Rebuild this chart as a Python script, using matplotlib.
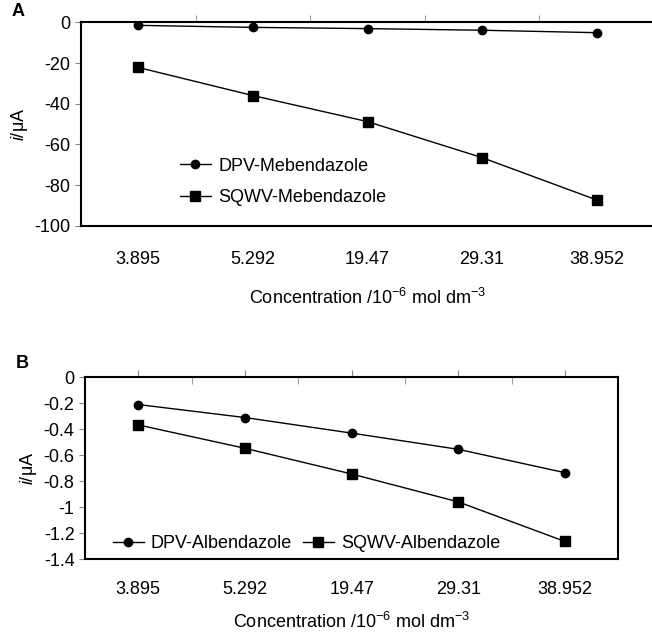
import numpy as np
import matplotlib.pyplot as plt
from matplotlib.ticker import FuncFormatter

plt.rcParams['font.family'] = ['Liberation Sans', 'DejaVu Sans']
plt.rcParams['mathtext.fontset'] = 'custom'
plt.rcParams['mathtext.rm'] = 'Liberation Sans'
plt.rcParams['mathtext.it'] = 'Liberation Sans:italic'
plt.rcParams['axes.unicode_minus'] = False

# Data
conc = ['3.895', '5.292', '19.47', '29.31', '38.952']
dpv_meb = [-1.5, -2.5, -3.1, -3.9, -5.1]
sqwv_meb = [-22.2, -36.0, -48.8, -66.5, -87.3]
dpv_alb = [-0.21, -0.31, -0.43, -0.555, -0.735]
sqwv_alb = [-0.367, -0.547, -0.745, -0.96, -1.265]

fs = 13
x = np.arange(len(conc))
xlabel = r'Concentration /10$^{-6}$ mol dm$^{-3}$'
ylabel = r'$\mathit{i}$/μA'

fig = plt.figure(figsize=(6.52, 6.33), dpi=100)

# Panel A
ax1 = fig.add_axes([81/652, 1-225.8/633, 573/652, 203.5/633])
ax1.plot(x, dpv_meb, '-o', color='black', lw=1.0, ms=6, label='DPV-Mebendazole')
ax1.plot(x, sqwv_meb, '-s', color='black', lw=1.0, ms=6.5, label='SQWV-Mebendazole')
ax1.set_xlim(-0.5, 4.5)
ax1.set_ylim(-100, 0)
ax1.set_yticks(np.arange(-100, 1, 20))
ax1.set_xticks(x)
ax1.set_xticklabels(conc)
ax1.set_xticks(np.arange(0.5, 4.5, 1), minor=True)
ax1.tick_params(axis='x', which='major', bottom=False, top=False,
                labelbottom=True, pad=15, labelsize=fs)
ax1.tick_params(axis='x', which='minor', bottom=False, top=True,
                direction='out', length=5, color='#888888')
ax1.tick_params(axis='y', direction='out', length=4, color='#888888', labelsize=fs)
ax1.spines['right'].set_visible(False)
ax1.spines['top'].set_linewidth(1.5)
ax1.spines['bottom'].set_linewidth(1.5)
ax1.spines['left'].set_linewidth(1.5)
ax1.set_xlabel(xlabel, fontsize=fs, labelpad=14)
ax1.set_ylabel(ylabel, fontsize=fs, labelpad=3)
ax1.legend(loc='upper left', bbox_to_anchor=(0.173, 0.335), frameon=False,
           fontsize=fs, handlelength=1.7, handletextpad=0.4, borderpad=0,
           borderaxespad=0, labelspacing=0.8)
fig.text(18/652, 1-12/633, 'A', fontsize=fs, fontweight='bold', va='center', ha='center')

# Panel B
ax2 = fig.add_axes([85/652, 1-559/633, 533.3/652, 181.7/633])
ax2.plot(x, dpv_alb, '-o', color='black', lw=1.0, ms=6, label='DPV-Albendazole')
ax2.plot(x, sqwv_alb, '-s', color='black', lw=1.0, ms=6.5, label='SQWV-Albendazole')
ax2.set_xlim(-0.5, 4.5)
ax2.set_ylim(-1.4, 0)
ax2.set_yticks(np.linspace(-1.4, 0, 8))
ax2.yaxis.set_major_formatter(FuncFormatter(lambda v, p: f'{round(v, 1):g}'))
ax2.set_xticks(x)
ax2.set_xticklabels(conc)
ax2.set_xticks(np.arange(0.5, 4.5, 1), minor=True)
ax2.tick_params(axis='x', which='major', bottom=False, top=True, direction='out',
                length=5, color='#888888', labelbottom=True, labeltop=False,
                pad=10.5, labelsize=fs)
ax2.tick_params(axis='x', which='minor', bottom=False, top=True,
                direction='in', length=5, color='#888888')
ax2.tick_params(axis='y', direction='out', length=4, color='#888888', labelsize=fs)
for s in ax2.spines.values():
    s.set_linewidth(1.5)
ax2.set_xlabel(xlabel, fontsize=fs, labelpad=10)
ax2.set_ylabel(ylabel, fontsize=fs, labelpad=3)
ax2.legend(loc='upper left', bbox_to_anchor=(0.0525, 0.13), frameon=False, ncol=2,
           fontsize=fs, handlelength=1.7, handletextpad=0.4, borderpad=0,
           borderaxespad=0, columnspacing=0.6)
fig.text(22/652, 1-363/633, 'B', fontsize=fs, fontweight='bold', va='center', ha='center')

fig.savefig('out.png', dpi=100)
